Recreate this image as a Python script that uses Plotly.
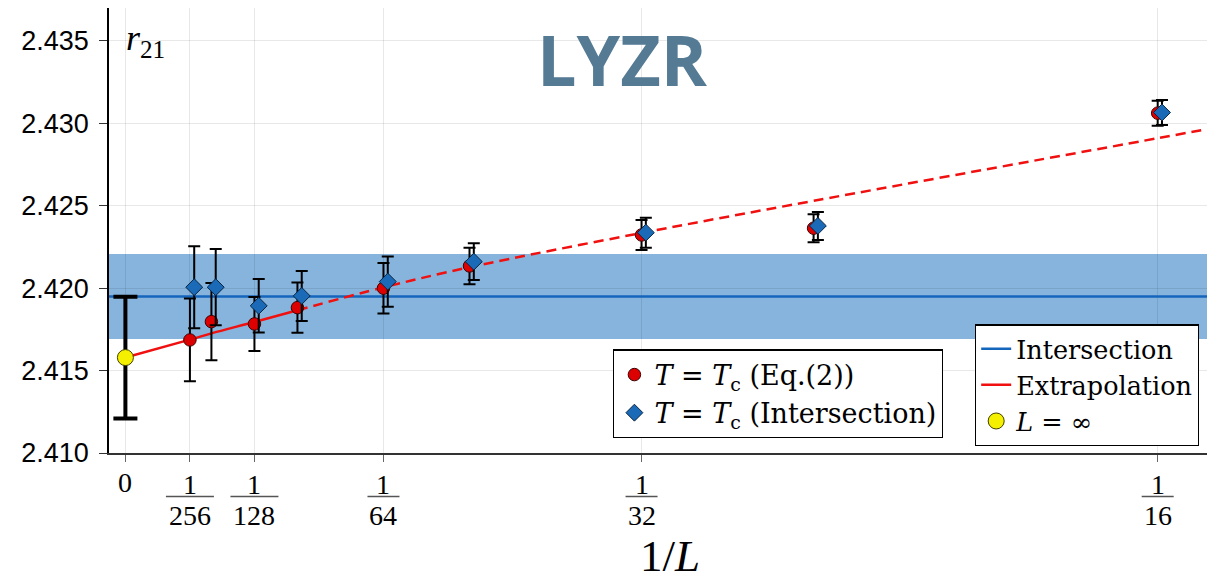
import plotly.graph_objects as go

# ---------------- data ----------------
L_values = [256, 192, 128, 96, 64, 48, 32, 24, 16]
inv_L = [1.0 / L for L in L_values]

r21_eq2 = [2.41686, 2.41797, 2.41783, 2.41882, 2.42000, 2.42135, 2.42323, 2.42364, 2.43062]
r21_eq2_err = [0.00251, 0.00234, 0.00164, 0.00152, 0.00153, 0.00111, 0.00091, 0.00085, 0.00076]

r21_int = [2.42006, 2.42006, 2.41893, 2.41953, 2.42040, 2.42161, 2.42337, 2.42378, 2.43066]
r21_int_err = [0.00249, 0.00231, 0.00162, 0.00152, 0.00152, 0.00111, 0.00091, 0.00085, 0.00076]

r21_inf = 2.41579
r21_inf_err = 0.00369

intersection_value = 2.41949
intersection_low = 2.41691
intersection_high = 2.42208

extrap_x = [0.0, 1/256, 1/192, 1/128, 1/96, 1/64, 1/48, 1/32, 1/24, 1/16, 0.066]
extrap_y = [2.41579, 2.41688, 2.41726, 2.41795, 2.41866, 2.42005, 2.42127,
            2.42335, 2.42530, 2.42910, 2.42975]
fit_limit = 1/96

tick_vals = [0, 1/256, 1/128, 1/64, 1/32, 1/16]
tick_num = ["0", "1", "1", "1", "1", "1"]
tick_den = [None, "256", "128", "64", "32", "16"]

y_ticks = [2.410, 2.415, 2.420, 2.425, 2.430, 2.435]

# ---------------- style ----------------
x_range = [-0.000993, 0.06597]
y_range = [2.4100, 2.43700]
blue_offset = 0.00026
SERIF = "Liberation Serif"
LEGSERIF = "DejaVu Serif"
SANS = "Liberation Sans"

fig = go.Figure()

# intersection band (shape below grid)
fig.add_shape(type="rect", xref="paper", yref="y", x0=0, x1=1,
              y0=intersection_low, y1=intersection_high,
              fillcolor="rgba(13,105,185,0.5)", line_width=0, layer="below")

# intersection line
fig.add_trace(go.Scatter(x=x_range, y=[intersection_value] * 2, mode="lines",
                         line=dict(color="#1466bd", width=2.5),
                         name="Intersection", legend="legend2"))

# extrapolation (solid in fit range, dashed beyond)
sx = [x for x in extrap_x if x <= fit_limit + 1e-12]
sy = extrap_y[:len(sx)]
dx = extrap_x[len(sx) - 1:]
dy = extrap_y[len(sx) - 1:]
fig.add_trace(go.Scatter(x=sx, y=sy, mode="lines", line=dict(color="#f01010", width=2.5),
                         line_shape="spline", name="Extrapolation", legend="legend2"))
fig.add_trace(go.Scatter(x=dx, y=dy, mode="lines",
                         line=dict(color="#f01010", width=2.5, dash="10px,6px"),
                         line_shape="spline", showlegend=False, legend="legend2"))

# Eq.(2) points
fig.add_trace(go.Scatter(
    x=inv_L, y=r21_eq2, mode="markers",
    marker=dict(symbol="circle", size=12.5, color="#dd0000",
                line=dict(color="#400000", width=1)),
    error_y=dict(type="data", array=r21_eq2_err, color="black", thickness=2, width=6),
    name="<i>T</i> = <i>T</i><sub>c</sub> (Eq.(2))", legend="legend"))

# Intersection points
fig.add_trace(go.Scatter(
    x=[x + blue_offset for x in inv_L], y=r21_int, mode="markers",
    marker=dict(symbol="diamond", size=13, color="#1a6ab8",
                line=dict(color="#0a2540", width=1)),
    error_y=dict(type="data", array=r21_int_err, color="black", thickness=2, width=6),
    name="<i>T</i> = <i>T</i><sub>c</sub> (Intersection)", legend="legend"))

# L = infinity
fig.add_trace(go.Scatter(
    x=[0], y=[r21_inf], mode="markers",
    marker=dict(symbol="circle", size=16, color="#f5f000",
                line=dict(color="#404000", width=1)),
    error_y=dict(type="data", array=[r21_inf_err], color="black", thickness=4, width=12),
    name="<i>L</i> = ∞", legend="legend2"))

# x tick labels as fractions
annotations = []
shapes = []
for v, n, d in zip(tick_vals, tick_num, tick_den):
    if d is None:
        annotations.append(dict(x=v, y=0, xref="x", yref="paper", text=n, showarrow=False,
                                yanchor="middle", yshift=-29,
                                font=dict(family=SERIF, size=28, color="black")))
    else:
        annotations.append(dict(x=v, y=0, xref="x", yref="paper", text=n, showarrow=False,
                                yanchor="middle", yshift=-31,
                                font=dict(family=SERIF, size=28, color="black")))
        annotations.append(dict(x=v, y=0, xref="x", yref="paper", text=d, showarrow=False,
                                yanchor="middle", yshift=-62,
                                font=dict(family=SERIF, size=28, color="black")))
        half = 8 * len(d)
        shapes.append(dict(type="line", xref="x", yref="paper", xsizemode="pixel",
                           ysizemode="pixel", xanchor=v, yanchor=0,
                           x0=-half, x1=half, y0=-43.5, y1=-43.5,
                           line=dict(color="#555555", width=1.5)))

# x axis title
annotations.append(dict(x=0.507, y=0, xref="paper", yref="paper", text="1/<i>L</i>",
                        showarrow=False, yanchor="middle", yshift=-103,
                        font=dict(family=SERIF, size=45, color="black")))
# r21 label
annotations.append(dict(x=0, y=1, xref="paper", yref="paper", text="<i>r</i><sub>21</sub>",
                        showarrow=False, xanchor="left", yanchor="top", xshift=15, yshift=-8,
                        font=dict(family=SERIF, size=36, color="black")))
# watermark
annotations.append(dict(x=0.464, y=1, xref="paper", yref="paper", text="<b>LYZR</b>",
                        showarrow=False, xanchor="center", yanchor="middle", yshift=-51,
                        font=dict(family="Open Sans", size=70, color="#557a93")))

for s in shapes:
    fig.add_shape(**s)

fig.update_layout(
    width=1207, height=573,
    margin=dict(l=101, r=0, t=0, b=128, autoexpand=False),
    paper_bgcolor="white", plot_bgcolor="white",
    annotations=annotations,
    xaxis=dict(range=x_range, tickvals=tick_vals, showticklabels=False,
               ticks="outside", ticklen=7, tickcolor="#666666", tickwidth=1.2,
               showgrid=True, gridcolor="rgba(0,0,0,0.09)", gridwidth=1,
               showline=True, linecolor="#333333", linewidth=1.5, mirror=True,
               zeroline=False, automargin=False),
    yaxis=dict(range=y_range, tickvals=y_ticks, ticktext=[f"{t:.3f}" for t in y_ticks],
               ticks="outside", ticklen=8, tickcolor="#333333", tickwidth=1.2,
               tickfont=dict(family=SANS, size=27, color="black"),
               ticklabelstandoff=5,
               showgrid=True, gridcolor="rgba(0,0,0,0.09)", gridwidth=1,
               showline=True, linecolor="black", linewidth=1.5, mirror=False,
               zeroline=False, automargin=False),
    legend=dict(x=0.4558, y=0.2332, xanchor="left", yanchor="top",
                bgcolor="white", bordercolor="black", borderwidth=1.3,
                font=dict(family=LEGSERIF, size=27, color="black"),
                itemwidth=30, tracegroupgap=0),
    legend2=dict(x=0.7829, y=0.2892, xanchor="left", yanchor="top",
                 bgcolor="white", bordercolor="black", borderwidth=1.3,
                 font=dict(family=LEGSERIF, size=25.5, color="black"),
                 itemwidth=30, tracegroupgap=0),
)

fig.write_html("out.html")
